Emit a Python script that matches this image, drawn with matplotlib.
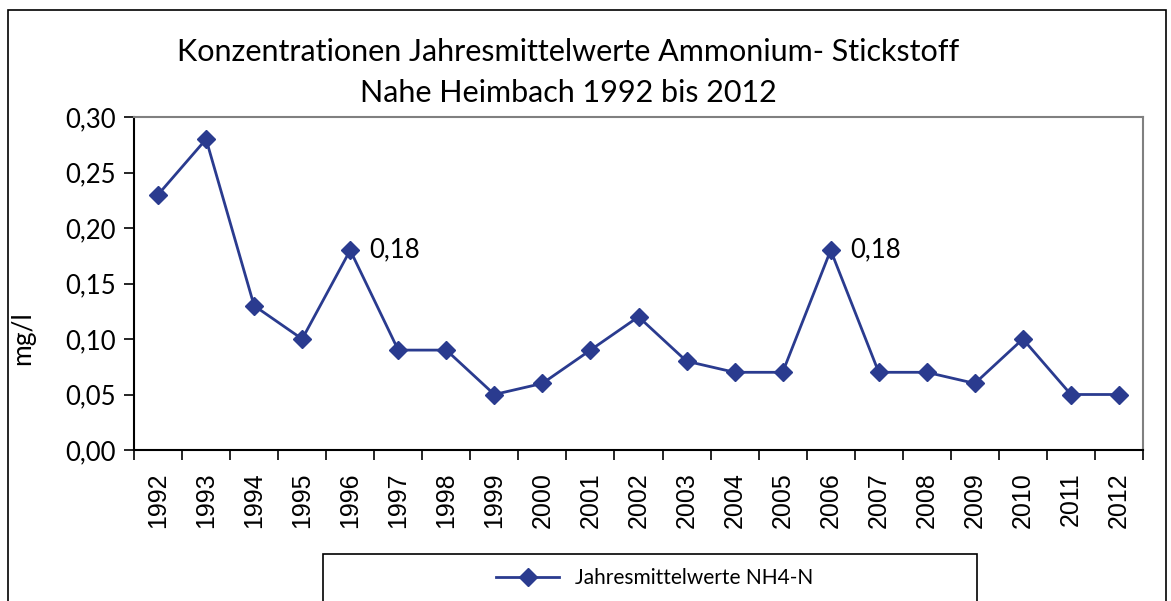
import matplotlib
matplotlib.use("Agg")
import matplotlib.pyplot as plt
from matplotlib.patches import Rectangle
from matplotlib.ticker import FixedLocator, NullFormatter

years = ["1992", "1993", "1994", "1995", "1996", "1997", "1998", "1999", "2000", "2001",
         "2002", "2003", "2004", "2005", "2006", "2007", "2008", "2009", "2010", "2011", "2012"]
values = [0.23, 0.28, 0.13, 0.10, 0.18, 0.09, 0.09, 0.05, 0.06, 0.09,
          0.12, 0.08, 0.07, 0.07, 0.18, 0.07, 0.07, 0.06, 0.10, 0.05, 0.05]
yticks = [0.00, 0.05, 0.10, 0.15, 0.20, 0.25, 0.30]
annotated = ["1996", "2006"]
series_name = "Jahresmittelwerte NH4-N"
title_lines = ["Konzentrationen Jahresmittelwerte Ammonium- Stickstoff",
               "Nahe Heimbach 1992 bis 2012"]

plt.rcParams['font.family'] = ['Lato', 'DejaVu Sans']
W, H = 1171, 601
fig = plt.figure(figsize=(W / 100, H / 100), dpi=100)

# outer chart border
fig.patches.append(Rectangle((8 / W, -0.05), (1166 - 8) / W, 1.05 - 10 / H,
                             transform=fig.transFigure, fill=False, edgecolor='black', lw=1.2))

left, right, top, bottom = 134, 1143, 117, 450
ax = fig.add_axes([left / W, 1 - bottom / H, (right - left) / W, (bottom - top) / H])

color = '#2A3B8F'
x = list(range(len(years)))
line, = ax.plot(x, values, color=color, lw=2, marker='D', markersize=9, label=series_name)

for i, (yr, v) in enumerate(zip(years, values)):
    if yr in annotated:
        ax.annotate(f"{v:.2f}".replace('.', ','), (i, v), xytext=(14, 0), textcoords='offset points',
                    va='center', ha='left', fontsize=18.5)

ax.set_xlim(-0.5, len(years) - 0.5)
ax.set_ylim(0, 0.30)
ax.set_yticks(yticks)
ax.set_yticklabels([f"{t:.2f}".replace('.', ',') for t in yticks], fontsize=18.5)
ax.set_xticks(x)
ax.set_xticklabels(years, rotation=90, fontsize=18, family=['Liberation Sans', 'DejaVu Sans'])
ax.tick_params(axis='x', which='major', length=0, pad=16)
ax.xaxis.set_minor_locator(FixedLocator([i - 0.5 for i in range(len(years) + 1)]))
ax.xaxis.set_minor_formatter(NullFormatter())
ax.tick_params(axis='x', which='minor', length=7, width=1.2, direction='out')
ax.tick_params(axis='y', length=7, width=1.2, direction='out', pad=6)

for s in ['left', 'bottom']:
    ax.spines[s].set_color('black')
    ax.spines[s].set_linewidth(1.5)
for s in ['top', 'right']:
    ax.spines[s].set_color('#808080')
    ax.spines[s].set_linewidth(1.5)

ax.set_ylabel("mg/l", fontsize=19)
ax.yaxis.set_label_coords(35 / W, 1 - 338 / H, transform=fig.transFigure)

fig.text(568 / W, 1 - 52 / H, title_lines[0], ha='center', va='center', fontsize=22)
fig.text(568 / W, 1 - 93 / H, title_lines[1], ha='center', va='center', fontsize=22)

# legend box
fig.patches.append(Rectangle((323 / W, -0.05), (977 - 323) / W, 0.05 + (H - 554) / H,
                             transform=fig.transFigure, fill=False, edgecolor='black', lw=1.2))
fig.legend(handles=[line], labels=[series_name], loc='center', bbox_to_anchor=(655 / W, 1 - 578 / H),
           frameon=False, fontsize=15, handlelength=3)

fig.savefig("out.png", dpi=100)
